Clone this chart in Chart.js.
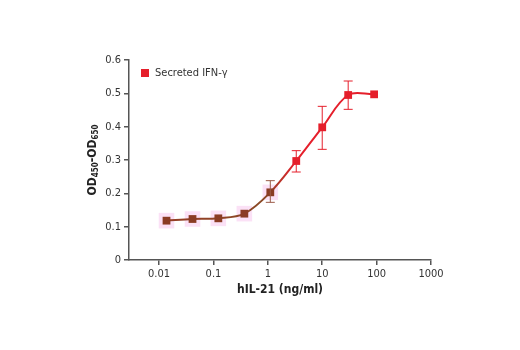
<!DOCTYPE html>
<html>
<head>
<meta charset="utf-8">
<script src="https://cdn.jsdelivr.net/npm/chart.js@4"></script>
<style>
  html, body { margin: 0; padding: 0; background: #fff; }
  #wrap { width: 520px; height: 350px; }
</style>
</head>
<body>
<div id="wrap"><canvas id="chart" width="520" height="350"></canvas></div>
<script>
// data
const doses = [0.0137, 0.0412, 0.123, 0.37, 1.11, 3.33, 10, 30, 90];
const od = [0.118, 0.123, 0.125, 0.139, 0.203, 0.297, 0.398, 0.495, 0.497];
const errLow = [null, null, null, null, 0.173, 0.264, 0.332, 0.452, null];
const errHigh = [null, null, null, null, 0.238, 0.328, 0.461, 0.537, null];
const xTicks = [0.01, 0.1, 1, 10, 100, 1000];
const yTicks = [0, 0.1, 0.2, 0.3, 0.4, 0.5, 0.6];
const seriesName = "Secreted IFN-\u03b3";

const RED = "#e51f2b";
const BROWN = "#8a3c24";
const PINK = "rgba(251,222,245,0.9)";
const FONT = "'DejaVu Sans Condensed', 'Liberation Sans', sans-serif";

const pts = doses.map((d, i) => ({x: d, y: od[i]}));
const haloPts = pts.slice(0, 5);

// error bars drawn over the main dataset
const errorBars = {
  id: "errorBars",
  afterDatasetsDraw(chart) {
    const ctx = chart.ctx;
    const xs = chart.scales.x, ys = chart.scales.y;
    ctx.save();
    ctx.lineWidth = 1;
    doses.forEach((d, i) => {
      if (errLow[i] == null) return;
      const x = xs.getPixelForValue(d);
      const y1 = ys.getPixelForValue(errLow[i]);
      const y2 = ys.getPixelForValue(errHigh[i]);
      ctx.strokeStyle = i < 5 ? "#9a5a48" : RED;
      ctx.beginPath();
      ctx.moveTo(x, y1); ctx.lineTo(x, y2);
      ctx.moveTo(x - 4.5, y1); ctx.lineTo(x + 4.5, y1);
      ctx.moveTo(x - 4.5, y2); ctx.lineTo(x + 4.5, y2);
      ctx.stroke();
    });
    ctx.restore();
  }
};

// legend inside the plot, top left
const legendBox = {
  id: "legendBox",
  afterDraw(chart) {
    const ctx = chart.ctx;
    const a = chart.chartArea;
    ctx.save();
    ctx.fillStyle = RED;
    ctx.fillRect(a.left + 12, a.top + 9, 8, 8);
    ctx.fillStyle = "#333";
    ctx.font = "11px " + FONT;
    ctx.textBaseline = "middle";
    ctx.fillText(seriesName, a.left + 26, a.top + 13.5);
    ctx.restore();
  }
};

// rotated y title with subscripts
const yTitle = {
  id: "yTitle",
  afterDraw(chart) {
    const ctx = chart.ctx;
    const parts = [["OD", 12, 0], ["450", 8, 3], ["-OD", 12, 0], ["650", 8, 3]];
    ctx.save();
    ctx.translate(93, (chart.chartArea.top + chart.chartArea.bottom) / 2);
    ctx.rotate(-Math.PI / 2);
    let total = 0;
    parts.forEach(p => { ctx.font = "bold " + p[1] + "px " + FONT; total += ctx.measureText(p[0]).width; });
    let x = -total / 2;
    ctx.fillStyle = "#222";
    ctx.textBaseline = "middle";
    parts.forEach(p => {
      ctx.font = "bold " + p[1] + "px " + FONT;
      ctx.fillText(p[0], x, p[2]);
      x += ctx.measureText(p[0]).width;
    });
    ctx.restore();
  }
};

function lineGradient(c) {
  const chart = c.chart;
  const a = chart.chartArea;
  if (!a) return RED;
  const g = chart.ctx.createLinearGradient(a.left, 0, a.right, 0);
  g.addColorStop(0, "#9a3a26");
  g.addColorStop(0.45, "#8a4a26");
  g.addColorStop(0.55, RED);
  g.addColorStop(1, RED);
  return g;
}

new Chart(document.getElementById("chart"), {
  type: "line",
  data: {
    datasets: [
      {
        label: "halo",
        data: haloPts,
        showLine: false,
        pointStyle: "rect",
        pointRadius: 11,
        pointBackgroundColor: PINK,
        pointBorderWidth: 0,
        order: 2
      },
      {
        label: seriesName,
        data: pts,
        borderColor: lineGradient,
        borderWidth: 2,
        tension: 0.35,
        pointStyle: "rect",
        pointRadius: 5.5,
        pointBorderWidth: 0,
        pointBackgroundColor: doses.map((d, i) => i < 5 ? BROWN : RED),
        order: 1
      }
    ]
  },
  options: {
    responsive: false,
    animation: false,
    layout: { padding: { top: 60, right: 89, left: 0, bottom: 0 } },
    plugins: {
      tooltip: { enabled: false },
      legend: { display: false }
    },
    scales: {
      x: {
        type: "logarithmic",
        min: 0.0028,
        max: 1000,
        afterBuildTicks: s => { s.ticks = xTicks.map(v => ({value: v})); },
        afterFit: s => { s.height = 90; },
        ticks: {
          color: "#333",
          font: { family: FONT, size: 11 },
          padding: 3,
          maxRotation: 0,
          callback: v => String(v)
        },
        grid: { drawOnChartArea: false, drawTicks: true, tickLength: 5, color: "#555", lineWidth: 1.5 },
        border: { color: "#555", width: 1.5 },
        title: {
          display: true,
          text: "hIL-21 (ng/ml)",
          color: "#222",
          font: { family: FONT, size: 12, weight: "bold" },
          padding: { top: 0, bottom: 53 }
        }
      },
      y: {
        min: 0,
        max: 0.6,
        afterBuildTicks: s => { s.ticks = yTicks.map(v => ({value: v})); },
        afterFit: s => { s.width = 129; },
        ticks: {
          color: "#333",
          font: { family: FONT, size: 11 },
          padding: 3,
          callback: v => String(v)
        },
        grid: { drawOnChartArea: false, drawTicks: true, tickLength: 5, color: "#555", lineWidth: 1.5 },
        border: { color: "#555", width: 1.5 }
      }
    }
  },
  plugins: [errorBars, legendBox, yTitle]
});
</script>
</body>
</html>
